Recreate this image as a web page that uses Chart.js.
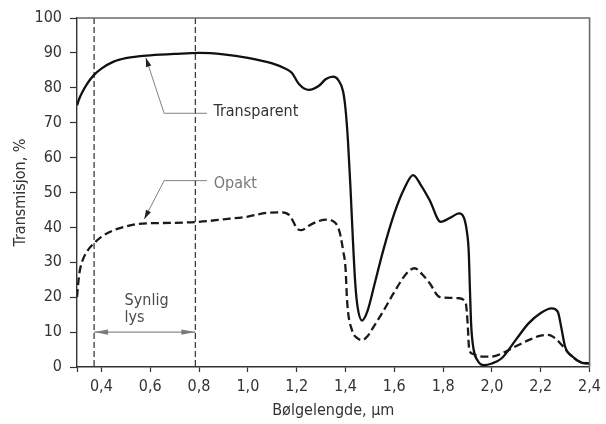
<!DOCTYPE html>
<html><head><meta charset="utf-8">
<script src="https://cdn.jsdelivr.net/npm/chart.js@4.4.0/dist/chart.umd.min.js"></script>
<style>html,body{margin:0;padding:0;background:#fff}#wrap{width:606px;height:424px}</style>
</head><body><div id="wrap"><canvas id="c" width="606" height="424"></canvas></div>
<script>
// ---- data ----
const transparentX = [0.30,0.31,0.32,0.34,0.37,0.40,0.45,0.50,0.55,0.60,0.70,0.80,0.90,1.00,1.10,1.15,1.18,1.21,1.25,1.29,1.32,1.35,1.37,1.39,1.40,1.41,1.42,1.43,1.44,1.45,1.468,1.49,1.52,1.555,1.60,1.64,1.677,1.71,1.745,1.79,1.83,1.865,1.885,1.897,1.905,1.91,1.915,1.925,1.94,1.966,2.00,2.04,2.10,2.15,2.20,2.245,2.27,2.285,2.30,2.33,2.37,2.40];
const transparentY = [75,77,78.5,81,83.7,85.5,87.5,88.5,89,89.3,89.7,90,89.6,88.6,87,85.6,84.3,81,79.4,80.5,82.5,83.2,82.3,79,74,65,52,37,24,17,13.3,16,24,33.5,44,51,55,52,47.8,41.6,42.8,44,42.8,39,33,22,12,5,2,0.5,1,2.5,8,12.5,15.5,16.8,15.8,11,5.8,3,1.2,1];
const opaqueX = [0.30,0.305,0.31,0.32,0.34,0.37,0.40,0.45,0.50,0.55,0.60,0.70,0.80,0.90,1.00,1.08,1.14,1.17,1.185,1.20,1.22,1.25,1.29,1.325,1.355,1.37,1.38,1.39,1.40,1.407,1.427,1.45,1.468,1.49,1.515,1.555,1.596,1.65,1.683,1.715,1.745,1.785,1.83,1.866,1.893,1.90,1.907,1.92,1.96,2.00,2.05,2.10,2.15,2.20,2.23,2.26,2.29,2.32,2.36,2.40];
const opaqueY = [20,24,27,30,33,35.5,37.3,39.2,40.3,41,41.2,41.3,41.6,42.3,43.1,44.2,44.3,43.5,41.8,39.8,39.2,40.5,41.8,42.2,41.5,40,37.5,33.5,28.5,18.5,10.5,8.2,7.7,8.8,11.5,16,21,26.8,28.3,26.5,24,20.1,19.8,19.7,18.2,13,5,3.8,3,3,4.2,6,7.7,9,9.2,8.2,6,3.5,1.5,1];
const seriesNames = ['Transparent', 'Opakt'];
const xTickValues = [0.3,0.4,0.6,0.8,1.0,1.2,1.4,1.6,1.8,2.0,2.2,2.4];
const yTickValues = [0,10,20,30,40,50,60,70,80,90,100];
const visibleLight = [0.37, 0.785];      // dashed limits of visible light
const visibleLabel = ['Synlig', 'lys'];
const xTitle = 'Bølgelengde, µm';
const yTitle = 'Transmisjon, %';

// label/leader anchor points (data units)
const transparentLeader = {tip:[0.582, 88.6], elbow:[0.657, 72.7], end:[0.832, 72.7], text:[0.859, 73.2]};
const opaqueLeader = {tip:[0.576, 42.4], elbow:[0.657, 53.4], end:[0.832, 53.4], text:[0.86, 52.6]};
const visibleArrowY = 10;
const visibleTextPos = [[0.495, 18.9], [0.495, 14.1]];

const FONT = "'DejaVu Sans Condensed', 'DejaVu Sans', sans-serif";
const pts = (xs, ys) => xs.map((v, i) => ({x: v, y: ys[i]}));

function arrowHead(ctx, fx, fy, tx, ty, len, half) {
  const a = Math.atan2(ty - fy, tx - fx);
  ctx.beginPath();
  ctx.moveTo(tx, ty);
  ctx.lineTo(tx - len*Math.cos(a) + half*Math.sin(a), ty - len*Math.sin(a) - half*Math.cos(a));
  ctx.lineTo(tx - len*Math.cos(a) - half*Math.sin(a), ty - len*Math.sin(a) + half*Math.cos(a));
  ctx.closePath();
  ctx.fill();
}

const annot = {
  id: 'annot',
  beforeDatasetsDraw(chart) {
    const {ctx, chartArea: a, scales: {x}} = chart;
    ctx.save();
    ctx.strokeStyle = '#3a3a3a'; ctx.lineWidth = 1.3; ctx.setLineDash([6, 3]);
    visibleLight.forEach(v => {
      const px = x.getPixelForValue(v);
      ctx.beginPath(); ctx.moveTo(px, a.top); ctx.lineTo(px, a.bottom); ctx.stroke();
    });
    ctx.restore();
  },
  afterDraw(chart) {
    const {ctx, chartArea: a, scales: {x, y}} = chart;
    const P = p => [x.getPixelForValue(p[0]), y.getPixelForValue(p[1])];
    ctx.save();
    // frame top/right
    ctx.strokeStyle = '#6a6a6a'; ctx.lineWidth = 1.6;
    ctx.beginPath(); ctx.moveTo(a.left, a.top); ctx.lineTo(a.right, a.top); ctx.lineTo(a.right, a.bottom); ctx.stroke();

    // visible light double arrow
    const x1 = x.getPixelForValue(visibleLight[0]), x2 = x.getPixelForValue(visibleLight[1]);
    const ay = y.getPixelForValue(visibleArrowY);
    ctx.strokeStyle = '#8a8a8a'; ctx.fillStyle = '#7a7a7a'; ctx.lineWidth = 1.2;
    ctx.beginPath(); ctx.moveTo(x1, ay); ctx.lineTo(x2, ay); ctx.stroke();
    arrowHead(ctx, x2, ay, x1, ay, 14, 2.6);
    arrowHead(ctx, x1, ay, x2, ay, 14, 2.6);

    ctx.font = '16px ' + FONT; ctx.textBaseline = 'middle'; ctx.textAlign = 'left';
    ctx.fillStyle = '#4a4a4a';
    visibleLabel.forEach((t, i) => { const p = P(visibleTextPos[i]); ctx.fillText(t, p[0], p[1]); });

    // leaders
    [[transparentLeader, seriesNames[0], '#333'], [opaqueLeader, seriesNames[1], '#777']].forEach(([L, name, col]) => {
      const t = P(L.tip), e = P(L.elbow), n = P(L.end), tx = P(L.text);
      ctx.strokeStyle = '#808080'; ctx.lineWidth = 1;
      ctx.beginPath(); ctx.moveTo(t[0], t[1]); ctx.lineTo(e[0], e[1]); ctx.lineTo(n[0], n[1]); ctx.stroke();
      ctx.fillStyle = '#222';
      arrowHead(ctx, e[0], e[1], t[0], t[1], 9, 2.8);
      ctx.fillStyle = col;
      ctx.fillText(name, tx[0], tx[1]);
    });
    ctx.restore();
  }
};

new Chart(document.getElementById('c'), {
  type: 'line',
  data: {
    datasets: [
      {label: seriesNames[0], data: pts(transparentX, transparentY), borderColor: '#111', borderWidth: 2.3,
       pointRadius: 0, cubicInterpolationMode: 'monotone', fill: false},
      {label: seriesNames[1], data: pts(opaqueX, opaqueY), borderColor: '#1a1a1a', borderWidth: 2.3,
       borderDash: [8, 4], pointRadius: 0, cubicInterpolationMode: 'monotone', fill: false}
    ]
  },
  options: {
    responsive: false, animation: false,
    layout: {padding: {top: 18, right: 11, left: 0, bottom: 0}},
    plugins: {legend: {display: false}, tooltip: {enabled: false}},
    scales: {
      x: {
        type: 'linear', min: 0.3, max: 2.4,
        afterFit: s => { s.height = 57; },
        afterBuildTicks: s => { s.ticks = xTickValues.map(v => ({value: v})); },
        ticks: {
          autoSkip: false, maxRotation: 0, padding: 5, color: '#333',
          font: {family: FONT, size: 16},
          callback: v => (Math.abs(v - 0.3) < 1e-9 ? '' : v.toFixed(1).replace('.', ','))
        },
        grid: {drawOnChartArea: false, drawTicks: true, tickLength: 5, color: '#333', tickWidth: 1.2},
        border: {display: true, color: '#333', width: 1.4},
        title: {display: true, text: xTitle, color: '#333', font: {family: FONT, size: 16}, padding: {top: 0, bottom: 4}}
      },
      y: {
        min: 0, max: 100,
        afterFit: s => { s.width = 77; },
        afterBuildTicks: s => { s.ticks = yTickValues.map(v => ({value: v})); },
        ticks: {padding: 8, color: '#333', font: {family: FONT, size: 16}},
        grid: {drawOnChartArea: false, drawTicks: true, tickLength: 7, color: '#333', tickWidth: 1.2},
        border: {display: true, color: '#333', width: 1.4},
        title: {display: true, text: yTitle, color: '#333', font: {family: FONT, size: 16}, padding: {top: 11, bottom: 0}}
      }
    }
  },
  plugins: [annot]
});
</script>
</body></html>
